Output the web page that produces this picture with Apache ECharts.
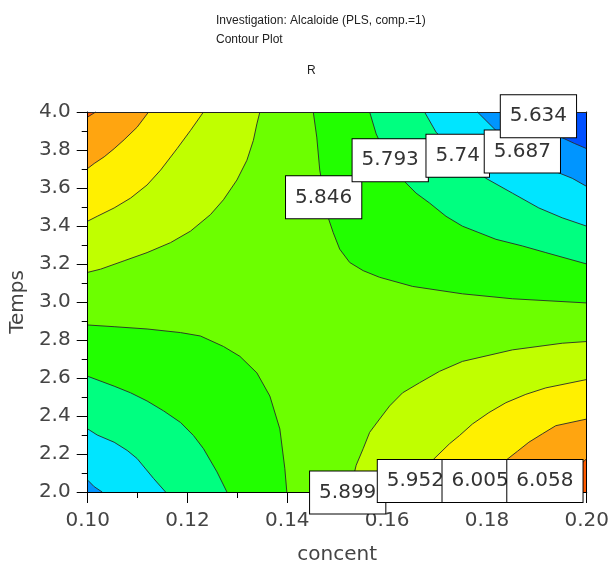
<!DOCTYPE html>
<html><head><meta charset="utf-8">
<script src="https://cdn.jsdelivr.net/npm/echarts@6/dist/echarts.min.js"></script>
<style>html,body{margin:0;padding:0;background:#fff}#c{width:612px;height:570px}</style>
</head><body><div id="c"></div><script>
// contour levels and band colours (band i lies between levels[i-1] and levels[i])
const levels = [5.634, 5.687, 5.74, 5.793, 5.846, 5.899, 5.952, 6.005, 6.058];
const bandColors = ['#0050FF','#0095FF','#00E5FF','#00FF80','#22FF00','#6CFF00','#C0FF00','#FFF000','#FFA510','#FF5A00'];

// contour curves, [concent, Temps]
// top-left corner (high): top edge -> left edge
const tl5899 = [[0.1345,4.0],[0.1339,3.9375],[0.1332,3.851],[0.1319,3.746],[0.1299,3.642],[0.1272,3.538],[0.1246,3.460],[0.1206,3.373],[0.1166,3.3125],[0.1119,3.260],[0.1073,3.217],[0.1026,3.173],[0.1,3.156]];
const tl5952 = [[0.1232,4.0],[0.1206,3.903],[0.1179,3.807],[0.1146,3.694],[0.1119,3.616],[0.1086,3.547],[0.1053,3.495],[0.1019,3.451],[0.1,3.4255]];
const tl6005 = [[0.1122,4.0],[0.1099,3.920],[0.1073,3.854],[0.1053,3.807],[0.1033,3.764],[0.1013,3.729],[0.1,3.703]];
const tl6058 = [[0.1016,4.0],[0.1,3.974]];
// top-right corner (low): top edge -> right edge
const tr5846 = [[0.1452,4.0],[0.1459,3.868],[0.1465,3.694],[0.1482,3.443],[0.1492,3.365],[0.1505,3.278],[0.1525,3.208],[0.1552,3.165],[0.1585,3.130],[0.1651,3.082],[0.1751,3.043],[0.1851,3.017],[0.2,2.995]];
const tr5793 = [[0.1565,4.0],[0.1578,3.885],[0.1600,3.760],[0.1635,3.634],[0.1658,3.573],[0.1685,3.521],[0.1718,3.451],[0.1751,3.399],[0.1784,3.365],[0.1818,3.330],[0.1871,3.295],[0.1918,3.26],[0.2,3.2]];
const tr5740 = [[0.1675,4.0],[0.1698,3.894],[0.1745,3.770],[0.1798,3.651],[0.1851,3.573],[0.1904,3.495],[0.1951,3.443],[0.2,3.399]];
const tr5687 = [[0.1781,4.0],[0.1818,3.903],[0.1875,3.800],[0.1938,3.686],[0.1971,3.651],[0.2,3.608]];
const tr5634 = [[0.1895,4.0],[0.1925,3.930],[0.1948,3.868],[0.1975,3.835],[0.2,3.807]];
// bottom-left corner (low): left edge -> bottom edge
const bl5846 = [[0.1,2.879],[0.1053,2.870],[0.1119,2.858],[0.1186,2.839],[0.1226,2.821],[0.1272,2.766],[0.1305,2.714],[0.1339,2.627],[0.1365,2.505],[0.1385,2.332],[0.1395,2.124],[0.1399,2.0]];
const bl5793 = [[0.1,2.609],[0.1053,2.557],[0.1086,2.522],[0.1119,2.479],[0.1152,2.427],[0.1186,2.366],[0.1212,2.297],[0.1232,2.228],[0.1259,2.106],[0.1279,2.0]];
const bl5740 = [[0.1,2.332],[0.1019,2.300],[0.1053,2.262],[0.1079,2.219],[0.1099,2.176],[0.1132,2.071],[0.1156,2.0]];
const bl5687 = [[0.1,2.0625],[0.1013,2.028],[0.1029,2.0]];
// bottom-right corner (high): right edge -> bottom edge
const br5899 = [[0.2,2.792],[0.1951,2.783],[0.1851,2.748],[0.1751,2.6875],[0.1705,2.635],[0.1665,2.575],[0.1631,2.522],[0.1605,2.453],[0.1585,2.384],[0.1565,2.314],[0.1552,2.228],[0.1538,2.141],[0.1525,2.0]];
const br5952 = [[0.2,2.592],[0.1918,2.548],[0.1878,2.514],[0.1838,2.470],[0.1804,2.418],[0.1771,2.358],[0.1745,2.297],[0.1725,2.254],[0.1691,2.167],[0.1655,2.0]];
const br6005 = [[0.2,2.384],[0.1938,2.349],[0.1911,2.306],[0.1884,2.262],[0.1861,2.214],[0.1838,2.167],[0.1800,2.0]];
const br6058 = [[0.2,2.176],[0.1970,2.1],[0.1935,2.0]];

// contour labels: value and the position of its box centre
const labelText = ['5.846','5.793','5.74','5.687','5.634','5.899','5.952','6.005','6.058'];
const labelX = [0.14728,0.16062,0.17415,0.18710,0.19032,0.15210,0.16567,0.17864,0.19162];
const labelY = [3.551,3.746,3.770,3.792,3.978,1.997,2.058,2.058,2.058];

const corners = {TL:[0.1,4.0], TR:[0.2,4.0], BL:[0.1,2.0], BR:[0.2,2.0]};
// painting order: outer region first
const contours = [
  {lv:5, c:'TL', pts:tl5899},{lv:6, c:'TL', pts:tl5952},{lv:7, c:'TL', pts:tl6005},{lv:8, c:'TL', pts:tl6058},
  {lv:5, c:'BR', pts:br5899},{lv:6, c:'BR', pts:br5952},{lv:7, c:'BR', pts:br6005},{lv:8, c:'BR', pts:br6058},
  {lv:4, c:'TR', pts:tr5846},{lv:3, c:'TR', pts:tr5793},{lv:2, c:'TR', pts:tr5740},{lv:1, c:'TR', pts:tr5687},{lv:0, c:'TR', pts:tr5634},
  {lv:4, c:'BL', pts:bl5846},{lv:3, c:'BL', pts:bl5793},{lv:2, c:'BL', pts:bl5740},{lv:1, c:'BL', pts:bl5687}
];
function regionColor(ct){
  const high = (ct.c === 'TL' || ct.c === 'BR');
  return high ? bandColors[ct.lv + 1] : bandColors[ct.lv];
}

const chart = echarts.init(document.getElementById('c'));
const axFont = {fontFamily:'DejaVu Sans', fontSize:20, color:'#444'};
chart.setOption({
  animation:false,
  title:[
    {text:'Investigation: Alcaloide (PLS, comp.=1)\nContour Plot', left:211, top:6,
     textStyle:{fontSize:12, fontWeight:'normal', fontFamily:'Liberation Sans', color:'#222', lineHeight:19}},
    {text:'R', left:302, top:56,
     textStyle:{fontSize:12, fontWeight:'normal', fontFamily:'Liberation Sans', color:'#222', lineHeight:19}}
  ],
  grid:{left:86, right:25, top:112, bottom:71, show:true, backgroundColor:bandColors[5], borderWidth:0},
  xAxis:[
    {type:'value', min:0.1, max:0.2, interval:0.02, name:'concent', nameLocation:'middle', nameGap:53,
     nameTextStyle:axFont, z:10,
     axisLine:{lineStyle:{color:'#000'}}, axisTick:{length:11, lineStyle:{color:'#000'}},
     minorTick:{show:true, splitNumber:2, length:6, lineStyle:{color:'#000'}},
     splitLine:{show:false},
     axisLabel:Object.assign({margin:19, formatter:v=>v.toFixed(2)}, axFont)},
    {type:'value', min:0.1, max:0.2, position:'top', z:10,
     axisLine:{show:true, onZero:false, lineStyle:{color:'#222'}}, axisTick:{show:false}, axisLabel:{show:false}, splitLine:{show:false}}
  ],
  yAxis:[
    {type:'value', min:2.0, max:4.0, interval:0.2, name:'Temps', nameLocation:'middle', nameGap:55,
     nameTextStyle:axFont, z:10,
     axisLine:{show:true, lineStyle:{color:'#000'}}, axisTick:{show:true, length:11, lineStyle:{color:'#000'}},
     minorTick:{show:true, splitNumber:2, length:6, lineStyle:{color:'#000'}},
     splitLine:{show:false},
     axisLabel:Object.assign({margin:17, formatter:v=>v.toFixed(1)}, axFont)},
    {type:'value', min:2.0, max:4.0, position:'right', z:10,
     axisLine:{show:true, onZero:false, lineStyle:{color:'#000'}}, axisTick:{show:false}, axisLabel:{show:false}, splitLine:{show:false}}
  ],
  series:[
    {type:'custom', coordinateSystem:'cartesian2d', xAxisIndex:0, yAxisIndex:0, z:2, silent:true,
     data: contours.map((ct,i)=>[ct.pts[0][0], ct.pts[0][1], i]),
     renderItem:function(params, api){
       const ct = contours[api.value(2)];
       const line = ct.pts.map(p=>api.coord(p));
       const poly = line.concat([api.coord(corners[ct.c])]);
       return {type:'group', children:[
         {type:'polygon', shape:{points:poly}, style:{fill:regionColor(ct), stroke:null}},
         {type:'polyline', shape:{points:line}, style:{fill:null, stroke:'#2a2a2a', lineWidth:0.9}}
       ]};
     }},
    {type:'custom', coordinateSystem:'cartesian2d', xAxisIndex:0, yAxisIndex:0, z:20, silent:true, clip:false,
     data: labelText.map((t,i)=>[labelX[i], labelY[i], i]),
     renderItem:function(params, api){
       const p = api.coord([api.value(0), api.value(1)]);
       return {type:'text', x:p[0], y:p[1], style:{
         text:labelText[api.value(2)], align:'center', verticalAlign:'middle',
         fontFamily:'DejaVu Sans', fontSize:20, lineHeight:24, fill:'#333',
         backgroundColor:'#fff', borderColor:'#000', borderWidth:1, padding:[9,9,9,9]}};
     }}
  ]
});
</script></body></html>
